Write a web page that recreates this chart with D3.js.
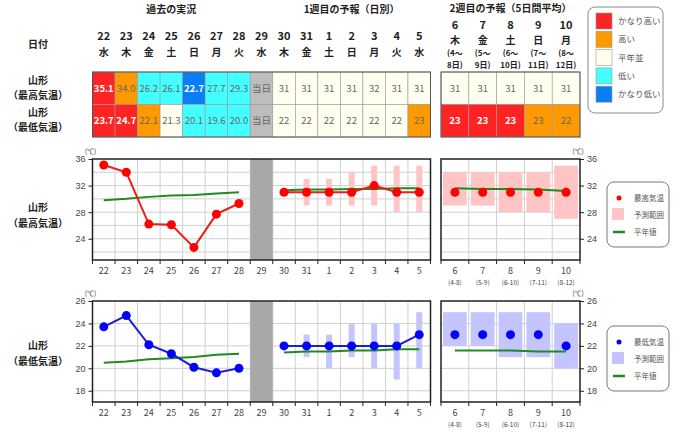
<!DOCTYPE html>
<html>
<head>
<meta charset="utf-8">
<script src="https://cdn.jsdelivr.net/npm/d3@7"></script>
<style>
  body { margin: 0; background: #fff; }
  text { font-family: "Noto Sans CJK JP", "Noto Sans", sans-serif; }
</style>
</head>
<body>
<svg id="chart" width="680" height="432"></svg>
<script>
// 日付（過去の実況 + 当日 + 1週目の予報）
const days1 = ["22", "23", "24", "25", "26", "27", "28", "29", "30", "31", "1", "2", "3", "4", "5"];
const wdays1 = ["水", "木", "金", "土", "日", "月", "火", "水", "木", "金", "土", "日", "月", "火", "水"];
const pastDays = days1.slice(0, 7);
const fcDays1 = days1.slice(8);
// 2週目（5日間平均）
const days2 = ["6", "7", "8", "9", "10"];
const wdays2 = ["木", "金", "土", "日", "月"];
const periods2a = ["(4～", "(5～", "(6～", "(7～", "(8～"];
const periods2b = ["8日)", "9日)", "10日)", "11日)", "12日)"];
const periods2 = ["(4-8)", "(5-9)", "(6-10)", "(7-11)", "(8-12)"];

// 最高気温
const maxPast = [35.1, 34.0, 26.2, 26.1, 22.7, 27.7, 29.3];
const maxNormPast = [29.8, 30.0, 30.3, 30.5, 30.6, 30.8, 31.0];
const maxFc1 = [31, 31, 31, 31, 32, 31, 31];
const maxLo1 = [null, 29, 29, 29, 29, 28, 28];
const maxHi1 = [null, 33, 33, 34, 35, 35, 35];
const maxNorm1 = [31.3, 31.4, 31.4, 31.5, 31.5, 31.6, 31.6];
const maxFc2 = [31, 31, 31, 31, 31];
const maxLo2 = [29, 29, 28, 28, 27];
const maxHi2 = [34, 34, 34, 34, 35];
const maxNorm2 = [31.6, 31.5, 31.5, 31.4, 31.2];

// 最低気温
const minPast = [23.7, 24.7, 22.1, 21.3, 20.1, 19.6, 20.0];
const minNormPast = [20.5, 20.6, 20.8, 20.9, 21.0, 21.2, 21.3];
const minFc1 = [22, 22, 22, 22, 22, 22, 23];
const minLo1 = [null, 21, 20, 21, 20, 19, 20];
const minHi1 = [null, 23, 23, 24, 24, 24, 25];
const minNorm1 = [21.4, 21.5, 21.5, 21.6, 21.6, 21.7, 21.7];
const minFc2 = [23, 23, 23, 23, 22];
const minLo2 = [22, 22, 21, 21, 20];
const minHi2 = [25, 25, 25, 25, 24];
const minNorm2 = [21.6, 21.6, 21.6, 21.5, 21.5];

// 階級（vh かなり高い, h 高い, n 平年並, l 低い, vl かなり低い）
const maxClass1 = ["vh", "h", "l", "l", "vl", "l", "l", "today", "n", "n", "n", "n", "n", "n", "n"];
const minClass1 = ["vh", "vh", "h", "n", "l", "l", "l", "today", "n", "n", "n", "n", "n", "n", "h"];
const maxClass2 = ["n", "n", "n", "n", "n"];
const minClass2 = ["vh", "vh", "vh", "h", "h"];

const legendKeys = ["vh", "h", "n", "l", "vl"];
const legendNames = ["かなり高い", "高い", "平年並", "低い", "かなり低い"];

const fills = { vh: "#ff2424", h: "#ff9900", n: "#fffff0", l: "#44ffff", vl: "#0a7ef5", today: "#bdbdbd" };

const svg = d3.select("#chart");
const x1 = d3.scaleBand().domain(days1).range([92.5, 430.5]);
const x2 = d3.scaleBand().domain(days2).range([441, 580]);
const fmt1 = d3.format(".1f");

// ---------- 上の表 ----------
const head = svg.append("g").attr("fill", "#222").attr("font-weight", "bold");
head.append("text").attr("x", (x1("22") + x1("28") + x1.bandwidth()) / 2).attr("y", 13)
  .attr("text-anchor", "middle").attr("font-size", 10).text("過去の実況");
head.append("text").attr("x", (x1("30") + x1("5") + x1.bandwidth()) / 2).attr("y", 13)
  .attr("text-anchor", "middle").attr("font-size", 10).text("1週目の予報（日別）");
head.append("text").attr("x", (x2.range()[0] + x2.range()[1]) / 2).attr("y", 12)
  .attr("text-anchor", "middle").attr("font-size", 10).text("2週目の予報（5日間平均）");

head.append("text").attr("x", 38).attr("y", 48).attr("text-anchor", "middle").attr("font-size", 10).text("日付");
[["山形", 84], ["（最高気温）", 99], ["山形", 116], ["（最低気温）", 131]].forEach(([t, yy]) => {
  head.append("text").attr("x", 38).attr("y", yy).attr("text-anchor", "middle").attr("font-size", 10).text(t);
});

head.selectAll(".d1").data(days1).join("text")
  .attr("x", d => x1(d) + x1.bandwidth() / 2).attr("y", 40)
  .attr("text-anchor", "middle").attr("font-size", 11).text(d => d);
head.selectAll(".w1").data(wdays1).join("text")
  .attr("x", (d, i) => x1(days1[i]) + x1.bandwidth() / 2).attr("y", 56)
  .attr("text-anchor", "middle").attr("font-size", 10).text(d => d);
head.selectAll(".d2").data(days2).join("text")
  .attr("x", d => x2(d) + x2.bandwidth() / 2).attr("y", 29)
  .attr("text-anchor", "middle").attr("font-size", 11).text(d => d);
head.selectAll(".w2").data(wdays2).join("text")
  .attr("x", (d, i) => x2(days2[i]) + x2.bandwidth() / 2).attr("y", 44)
  .attr("text-anchor", "middle").attr("font-size", 10).text(d => d);
head.selectAll(".p2a").data(periods2a).join("text")
  .attr("x", (d, i) => x2(days2[i]) + x2.bandwidth() / 2).attr("y", 56)
  .attr("text-anchor", "middle").attr("font-size", 8).text(d => d);
head.selectAll(".p2b").data(periods2b).join("text")
  .attr("x", (d, i) => x2(days2[i]) + x2.bandwidth() / 2).attr("y", 68)
  .attr("text-anchor", "middle").attr("font-size", 8).text(d => d);

const rowTop = [72, 104.5];
const rowH = 32.5;

function tableRow(x, keys, texts, classes, ry) {
  const g = svg.append("g");
  g.selectAll("rect").data(keys).join("rect")
    .attr("x", d => x(d)).attr("y", ry).attr("width", x.bandwidth()).attr("height", rowH)
    .attr("fill", (d, i) => fills[classes[i]]).attr("stroke", "#999").attr("stroke-width", 0.6);
  g.selectAll("text").data(keys).join("text")
    .attr("x", d => x(d) + x.bandwidth() / 2).attr("y", ry + rowH / 2 + 3.5)
    .attr("text-anchor", "middle").attr("font-size", 9.5)
    .attr("font-weight", (d, i) => (classes[i] === "vh" || classes[i] === "vl") ? "bold" : "normal")
    .attr("fill", (d, i) => (classes[i] === "vh" || classes[i] === "vl") ? "#fff" : "#666")
    .text((d, i) => texts[i]);
}

const maxTexts1 = maxPast.map(fmt1).concat(["当日"], maxFc1.map(String));
const minTexts1 = minPast.map(fmt1).concat(["当日"], minFc1.map(String));
tableRow(x1, days1, maxTexts1, maxClass1, rowTop[0]);
tableRow(x1, days1, minTexts1, minClass1, rowTop[1]);
tableRow(x2, days2, maxFc2.map(String), maxClass2, rowTop[0]);
tableRow(x2, days2, minFc2.map(String), minClass2, rowTop[1]);
[x1, x2].forEach(x => {
  svg.append("rect").attr("x", x.range()[0]).attr("y", rowTop[0])
    .attr("width", x.range()[1] - x.range()[0]).attr("height", rowH * 2)
    .attr("fill", "none").attr("stroke", "#555").attr("stroke-width", 1);
});

// 階級の凡例
const lg = svg.append("g");
lg.append("rect").attr("x", 588).attr("y", 7).attr("width", 75).attr("height", 106).attr("rx", 7)
  .attr("fill", "#fff").attr("stroke", "#888");
lg.selectAll(".sw").data(legendKeys).join("rect")
  .attr("x", 596).attr("y", (d, i) => 13 + i * 18.3).attr("width", 16).attr("height", 16)
  .attr("fill", d => fills[d]).attr("stroke", "#999").attr("stroke-width", 0.6);
lg.selectAll("text").data(legendNames).join("text")
  .attr("x", 618).attr("y", (d, i) => 24 + i * 18.3).attr("font-size", 8.5).attr("fill", "#555").text(d => d);

// ---------- グラフ ----------
function drawChart(c) {
  const y = d3.scaleLinear().domain(c.yDomain).range([c.bottom, c.top]);
  const g = svg.append("g");
  const cx1 = d => x1(d) + x1.bandwidth() / 2;
  const cx2 = d => x2(d) + x2.bandwidth() / 2;

  [x1, x2].forEach(x => {
    const [a, b] = x.range();
    g.selectAll(null).data(c.grid).join("line")
      .attr("x1", a).attr("x2", b).attr("y1", d => y(d)).attr("y2", d => y(d))
      .attr("stroke", "#d0d0d0").attr("stroke-width", 1);
    g.selectAll(null).data(x.domain().slice(1)).join("line")
      .attr("x1", d => x(d)).attr("x2", d => x(d)).attr("y1", c.top).attr("y2", c.bottom)
      .attr("stroke", "#d0d0d0").attr("stroke-width", 1);
  });

  // 当日
  g.append("rect").attr("x", x1("29")).attr("y", c.top).attr("width", x1.bandwidth())
    .attr("height", c.bottom - c.top).attr("fill", "#a8a8a8");

  // 予測範囲
  g.selectAll(null).data(fcDays1.filter((d, i) => c.lo1[i] !== null)).join("rect")
    .attr("x", d => cx1(d) - 3).attr("width", 6)
    .attr("y", d => y(c.hi1[fcDays1.indexOf(d)]))
    .attr("height", d => y(c.lo1[fcDays1.indexOf(d)]) - y(c.hi1[fcDays1.indexOf(d)]))
    .attr("fill", c.range);
  g.selectAll(null).data(days2).join("rect")
    .attr("x", d => x2(d) + 2).attr("width", x2.bandwidth() - 4)
    .attr("y", (d, i) => y(c.hi2[i])).attr("height", (d, i) => y(c.lo2[i]) - y(c.hi2[i]))
    .attr("fill", c.range);

  // 平年値
  const norm = d3.line().x(d => d[0]).y(d => y(d[1]));
  [
    pastDays.map((d, i) => [cx1(d), c.normPast[i]]),
    fcDays1.map((d, i) => [cx1(d), c.norm1[i]]),
    days2.map((d, i) => [cx2(d), c.norm2[i]])
  ].forEach(pts => {
    g.append("path").attr("d", norm(pts)).attr("fill", "none")
      .attr("stroke", "#1f8a1f").attr("stroke-width", 2);
  });

  // 気温
  [
    pastDays.map((d, i) => [cx1(d), c.past[i]]),
    fcDays1.map((d, i) => [cx1(d), c.fc1[i]])
  ].forEach(pts => {
    g.append("path").attr("d", norm(pts)).attr("fill", "none")
      .attr("stroke", c.line).attr("stroke-width", 2);
  });
  const dots = pastDays.map((d, i) => [cx1(d), c.past[i]])
    .concat(fcDays1.map((d, i) => [cx1(d), c.fc1[i]]), days2.map((d, i) => [cx2(d), c.fc2[i]]));
  g.selectAll(null).data(dots).join("circle")
    .attr("cx", d => d[0]).attr("cy", d => y(d[1])).attr("r", 4.5).attr("fill", c.dot);

  // 枠と軸
  [x1, x2].forEach(x => {
    const [a, b] = x.range();
    g.append("rect").attr("x", a).attr("y", c.top).attr("width", b - a).attr("height", c.bottom - c.top)
      .attr("fill", "none").attr("stroke", "#222").attr("stroke-width", 1.5);
    g.selectAll(null).data(x.domain().map(d => x(d)).concat([b])).join("line")
      .attr("x1", d => d).attr("x2", d => d).attr("y1", c.bottom).attr("y2", c.bottom + 4)
      .attr("stroke", "#222");
  });
  const axL = g.append("g").attr("transform", `translate(${x1.range()[0]},0)`)
    .call(d3.axisLeft(y).tickValues(c.ticks).tickSize(4));
  const axR = g.append("g").attr("transform", `translate(${x2.range()[1]},0)`)
    .call(d3.axisRight(y).tickValues(c.ticks).tickSize(4));
  [axL, axR].forEach(ax => {
    ax.select(".domain").remove();
    ax.selectAll("line").attr("stroke", "#222");
    ax.selectAll("text").attr("font-size", 9).attr("fill", "#444")
      .style("font-family", '"Liberation Sans", Arial, sans-serif');
  });
  g.append("text").attr("x", x1.range()[0] - 2).attr("y", c.top - 5).attr("text-anchor", "middle")
    .attr("font-size", 7).attr("fill", "#444").text("(℃)");
  g.append("text").attr("x", x2.range()[1] - 2).attr("y", c.top - 5).attr("text-anchor", "middle")
    .attr("font-size", 7).attr("fill", "#444").text("(℃)");

  const xl = g.append("g").attr("font-size", 9).attr("fill", "#444")
    .style("font-family", '"Liberation Sans", Arial, sans-serif');
  xl.selectAll(null).data(days1).join("text")
    .attr("x", d => cx1(d)).attr("y", c.bottom + 14).attr("text-anchor", "middle").text(d => d);
  xl.selectAll(null).data(days2).join("text")
    .attr("x", d => cx2(d)).attr("y", c.bottom + 14).attr("text-anchor", "middle").text(d => d);
  xl.selectAll(null).data(periods2).join("text")
    .attr("x", (d, i) => cx2(days2[i])).attr("y", c.bottom + 25).attr("text-anchor", "middle")
    .attr("font-size", 6.5).text(d => d);

  // 左の見出し
  g.append("text").attr("x", 38).attr("y", c.labelY).attr("text-anchor", "middle")
    .attr("font-size", 10).attr("font-weight", "bold").attr("fill", "#222").text("山形");
  g.append("text").attr("x", 38).attr("y", c.labelY + 16).attr("text-anchor", "middle")
    .attr("font-size", 10).attr("font-weight", "bold").attr("fill", "#222").text(c.label);

  // 凡例
  const L = g.append("g");
  L.append("rect").attr("x", 607).attr("y", c.legendY).attr("width", 62).attr("height", 65).attr("rx", 7)
    .attr("fill", "#fff").attr("stroke", "#777");
  L.append("circle").attr("cx", 619).attr("cy", c.legendY + 16).attr("r", 2.5).attr("fill", c.dot);
  L.append("rect").attr("x", 612).attr("y", c.legendY + 26).attr("width", 12).attr("height", 12).attr("fill", c.range);
  L.append("line").attr("x1", 613).attr("x2", 625).attr("y1", c.legendY + 50).attr("y2", c.legendY + 50)
    .attr("stroke", "#1f8a1f").attr("stroke-width", 2.5);
  L.selectAll("text").data([c.name, "予測範囲", "平年値"]).join("text")
    .attr("x", 634).attr("y", (d, i) => c.legendY + 19 + i * 17).attr("font-size", 7.5).attr("fill", "#555")
    .text(d => d);
}

drawChart({
  yDomain: [20.8, 36], top: 159, bottom: 260, grid: [22, 24, 26, 28, 30, 32, 34], ticks: [24, 28, 32, 36],
  past: maxPast, normPast: maxNormPast, fc1: maxFc1, lo1: maxLo1, hi1: maxHi1, norm1: maxNorm1,
  fc2: maxFc2, lo2: maxLo2, hi2: maxHi2, norm2: maxNorm2,
  line: "#ee1c1c", dot: "#ff0000", range: "#ffc4c4",
  label: "（最高気温）", labelY: 211, legendY: 182, name: "最高気温"
});
drawChart({
  yDomain: [17, 26], top: 301, bottom: 402, grid: [18, 20, 22, 24], ticks: [18, 20, 22, 24, 26],
  past: minPast, normPast: minNormPast, fc1: minFc1, lo1: minLo1, hi1: minHi1, norm1: minNorm1,
  fc2: minFc2, lo2: minLo2, hi2: minHi2, norm2: minNorm2,
  line: "#1c1cdd", dot: "#0000ff", range: "#c4c4ff",
  label: "（最低気温）", labelY: 349, legendY: 326, name: "最低気温"
});
</script>
</body>
</html>
